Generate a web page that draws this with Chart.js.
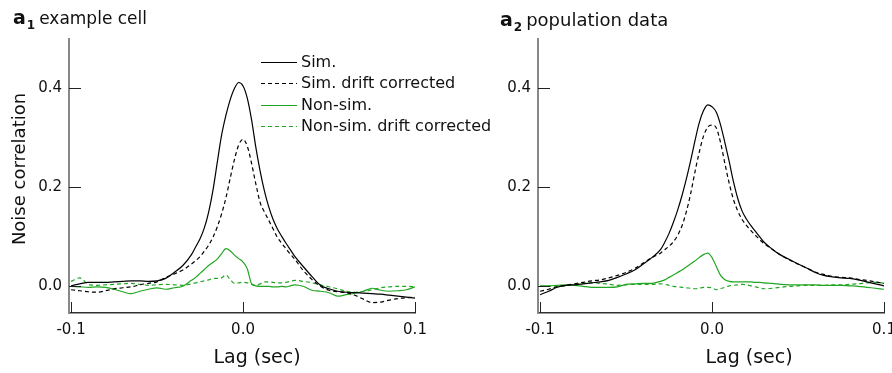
<!DOCTYPE html>
<html>
<head>
<meta charset="utf-8">
<script src="https://cdn.jsdelivr.net/npm/chart.js@4.4.1/dist/chart.umd.min.js"></script>
<style>
  html, body { margin: 0; padding: 0; background: #fff; }
  body { width: 892px; height: 373px; position: relative; overflow: hidden; }
  canvas { position: absolute; top: 0; }
  #cell { left: 0; }
  #pop { left: 446px; }
</style>
</head>
<body>
<canvas id="cell" width="510" height="373"></canvas>
<canvas id="pop" width="446" height="373"></canvas>
<script>
// lag in seconds (finer around the peak)
const lags = [
  -0.100, -0.095, -0.090, -0.085, -0.080, -0.075, -0.070, -0.065, -0.060, -0.055, -0.050, -0.045, -0.040, -0.035, -0.030,
  -0.0275, -0.025, -0.0225, -0.020, -0.0175, -0.015, -0.0125, -0.010, -0.0075, -0.005, -0.0025, 0, 0.0025, 0.005, 0.0075, 0.010, 0.0125, 0.015, 0.0175, 0.020, 0.0225, 0.025, 0.0275,
  0.030, 0.035, 0.040, 0.045, 0.050, 0.055, 0.060, 0.065, 0.070, 0.075, 0.080, 0.085, 0.090, 0.095, 0.100
];

// a1 example cell
const cellSim = [
  0.001, 0.005, 0.008, 0.008, 0.008, 0.009, 0.010, 0.011, 0.011, 0.010, 0.011, 0.016, 0.028, 0.042, 0.064,
  0.080, 0.096, 0.118, 0.150, 0.194, 0.250, 0.305, 0.345, 0.377, 0.400, 0.412, 0.405, 0.380, 0.336, 0.280, 0.232, 0.192, 0.160, 0.135, 0.116, 0.101, 0.087, 0.074,
  0.061, 0.040, 0.020, 0.002, -0.005, -0.010, -0.012, -0.013, -0.014, -0.015, -0.016, -0.018, -0.020, -0.022, -0.024
];
const cellSimDc = [
  -0.007, -0.009, -0.011, -0.012, -0.009, -0.005, -0.003, -0.001, 0.003, 0.006, 0.009, 0.018, 0.025, 0.033, 0.045,
  0.052, 0.060, 0.071, 0.083, 0.099, 0.120, 0.146, 0.178, 0.218, 0.256, 0.286, 0.297, 0.283, 0.248, 0.206, 0.169, 0.150, 0.133, 0.116, 0.099, 0.087, 0.076, 0.065,
  0.055, 0.032, 0.014, 0.000, -0.008, -0.011, -0.013, -0.018, -0.026, -0.033, -0.032, -0.028, -0.025, -0.023, -0.022
];
const cellNon = [
  0.000, -0.001, -0.002, -0.001, -0.002, -0.006, -0.011, -0.015, -0.010, -0.006, -0.003, -0.006, -0.003, 0.000, 0.012,
  0.018, 0.026, 0.034, 0.042, 0.048, 0.055, 0.066, 0.076, 0.072, 0.063, 0.056, 0.049, 0.035, 0.005, 0.001, 0.000, 0.000, 0.000, -0.001, -0.001, 0.000, -0.001, 0.001,
  0.003, 0.000, -0.008, -0.010, -0.013, -0.020, -0.017, -0.014, -0.010, -0.004, -0.008, -0.010, -0.009, -0.007, -0.001
];
const cellNonDc = [
  0.010, 0.017, 0.004, 0.002, 0.003, 0.004, 0.005, 0.006, 0.004, 0.002, 0.003, 0.004, 0.003, 0.002, 0.005,
  0.007, 0.009, 0.011, 0.013, 0.016, 0.016, 0.017, 0.023, 0.014, 0.006, 0.007, 0.008, 0.007, 0.004, 0.002, 0.005, 0.009, 0.009, 0.008, 0.007, 0.007, 0.008, 0.010,
  0.012, 0.010, 0.007, 0.003, -0.001, -0.005, -0.010, -0.012, -0.010, -0.007, -0.003, -0.001, 0.000, 0.000, -0.001
];

// a2 population data
const popSim = [
  -0.017, -0.010, -0.002, 0.002, 0.003, 0.005, 0.007, 0.009, 0.012, 0.018, 0.025, 0.033, 0.045, 0.058, 0.074,
  0.089, 0.107, 0.129, 0.154, 0.183, 0.216, 0.253, 0.293, 0.330, 0.355, 0.367, 0.363, 0.352, 0.326, 0.290, 0.252, 0.211, 0.177, 0.152, 0.136, 0.123, 0.112, 0.101,
  0.090, 0.075, 0.063, 0.054, 0.045, 0.037, 0.028, 0.022, 0.019, 0.017, 0.016, 0.013, 0.009, 0.005, 0.001
];
const popSimDc = [
  -0.010, -0.006, -0.001, 0.002, 0.005, 0.008, 0.011, 0.013, 0.017, 0.022, 0.028, 0.036, 0.047, 0.058, 0.067,
  0.074, 0.081, 0.090, 0.103, 0.122, 0.150, 0.186, 0.230, 0.270, 0.303, 0.322, 0.326, 0.320, 0.290, 0.248, 0.208, 0.175, 0.152, 0.135, 0.123, 0.113, 0.104, 0.095,
  0.087, 0.075, 0.063, 0.053, 0.045, 0.037, 0.029, 0.024, 0.020, 0.018, 0.017, 0.014, 0.012, 0.009, 0.006
];
const popNon = [
  0.001, 0.001, 0.002, 0.003, 0.002, 0.000, -0.002, -0.002, -0.002, -0.001, 0.004, 0.005, 0.006, 0.006, 0.010,
  0.013, 0.018, 0.023, 0.028, 0.033, 0.039, 0.045, 0.051, 0.058, 0.064, 0.067, 0.058, 0.040, 0.022, 0.013, 0.010, 0.009, 0.009, 0.009, 0.009, 0.009, 0.008, 0.008,
  0.007, 0.006, 0.004, 0.003, 0.003, 0.003, 0.003, 0.002, 0.002, 0.002, 0.001, 0.000, -0.002, -0.004, -0.006
];
const popNonDc = [
  0.000, 0.000, 0.000, 0.001, 0.004, 0.006, 0.007, 0.006, 0.004, 0.002, 0.003, 0.004, 0.004, 0.004, 0.005,
  0.004, 0.002, 0.000, -0.001, -0.002, -0.003, -0.004, -0.005, -0.004, -0.002, -0.002, -0.003, -0.007, -0.005, -0.002, 0.001, 0.002, 0.003, 0.004, 0.003, 0.001, -0.001, -0.003,
  -0.005, -0.004, -0.002, 0.000, 0.001, 0.002, 0.002, 0.002, 0.003, 0.003, 0.004, 0.005, 0.007, 0.008, 0.006
];

const seriesNames = ['Sim.', 'Sim. drift corrected', 'Non-sim.', 'Non-sim. drift corrected'];
const xTicks = [-0.1, 0, 0.1];
const yTicks = [0, 0.2, 0.4];
const xTitle = 'Lag (sec)';
const yTitle = 'Noise correlation';

const FONT = '"DejaVu Sans", Verdana, sans-serif';
const GREEN = '#22a622';

// inward ticks, axis titles, panel heading and the inset legend
const decorations = {
  id: 'decorations',
  afterDraw(chart, args, o) {
    const { ctx, chartArea: a, scales: { x, y } } = chart;
    ctx.save();
    ctx.strokeStyle = '#222';
    ctx.lineWidth = 1;
    ctx.beginPath();
    xTicks.forEach(v => {
      const px = Math.round(x.getPixelForValue(v)) + 0.5;
      ctx.moveTo(px, a.bottom);
      ctx.lineTo(px, a.bottom - 11);
    });
    yTicks.forEach(v => {
      const py = Math.round(y.getPixelForValue(v)) + 0.5;
      ctx.moveTo(a.left, py);
      ctx.lineTo(a.left + 12, py);
    });
    ctx.stroke();

    ctx.fillStyle = '#111';
    ctx.textAlign = 'center';
    ctx.textBaseline = 'middle';
    ctx.font = '19px ' + FONT;
    ctx.fillText(xTitle, (a.left + a.right) / 2 + o.xTitleShift, 358);

    if (o.showYTitle) {
      ctx.save();
      ctx.translate(20, 169);
      ctx.rotate(-Math.PI / 2);
      ctx.font = '18px ' + FONT;
      ctx.fillText(yTitle, 0, 0);
      ctx.restore();
    }

    // heading like "a1 example cell"
    ctx.textAlign = 'left';
    ctx.textBaseline = 'alphabetic';
    let hx = o.headX;
    ctx.font = 'bold 19px ' + FONT;
    ctx.fillText('a', hx, o.headY);
    hx += ctx.measureText('a').width + 1;
    ctx.font = 'bold 12px ' + FONT;
    ctx.fillText(o.sub, hx, o.headY + 5);
    hx += ctx.measureText(o.sub).width + 4;
    ctx.font = o.headSize + 'px ' + FONT;
    ctx.fillText(o.head, hx, o.headY);

    if (o.legend) {
      ctx.font = '16px ' + FONT;
      ctx.textBaseline = 'middle';
      chart.data.datasets.forEach((ds, i) => {
        const ly = Math.round(62 + i * 21.3) + 0.5;
        ctx.strokeStyle = ds.borderColor;
        ctx.lineWidth = 1.2;
        ctx.setLineDash(ds.borderDash || []);
        ctx.beginPath();
        ctx.moveTo(261, ly);
        ctx.lineTo(297, ly);
        ctx.stroke();
        ctx.setLineDash([]);
        ctx.fillStyle = '#111';
        ctx.fillText(ds.label, 301, ly);
      });
    }
    ctx.restore();
  }
};

function makePanel(id, values, leftW, rightPad, deco) {
  const styles = [
    { color: '#000', dash: [] },
    { color: '#000', dash: [4, 3] },
    { color: GREEN, dash: [] },
    { color: GREEN, dash: [4, 3] }
  ];
  const datasets = values.map((vals, i) => ({
    label: seriesNames[i],
    data: lags.map((l, j) => ({ x: l, y: vals[j] })),
    borderColor: styles[i].color,
    borderDash: styles[i].dash,
    borderWidth: 1.2,
    pointRadius: 0,
    cubicInterpolationMode: 'monotone',
    fill: false
  }));
  const tickFont = { family: FONT, size: 15 };
  return new Chart(document.getElementById(id), {
    type: 'line',
    data: { datasets },
    plugins: [decorations],
    options: {
      responsive: false,
      animation: false,
      events: [],
      layout: { padding: { left: 0, top: 39, right: rightPad, bottom: 0 } },
      plugins: {
        legend: { display: false },
        tooltip: { enabled: false },
        decorations: deco
      },
      scales: {
        x: {
          type: 'linear',
          min: -0.1012,
          max: 0.1,
          grid: { display: false, drawTicks: false },
          border: { display: true, color: '#333', width: 1.5 },
          afterBuildTicks: s => { s.ticks = xTicks.map(v => ({ value: v })); },
          afterFit: s => { s.height = 60; s.paddingLeft = 0; s.paddingRight = 0; },
          ticks: { padding: 8, color: '#111', font: tickFont, maxRotation: 0, autoSkip: false, callback: v => v.toFixed(1) }
        },
        y: {
          min: -0.054,
          max: 0.5,
          grid: { display: false, drawTicks: false },
          border: { display: true, color: '#888', width: 2 },
          afterBuildTicks: s => { s.ticks = yTicks.map(v => ({ value: v })); },
          afterFit: s => { s.width = leftW; s.paddingTop = 0; s.paddingBottom = 0; },
          ticks: { padding: 7, color: '#111', font: tickFont, callback: v => v.toFixed(1) }
        }
      }
    }
  });
}

makePanel('cell', [cellSim, cellSimDc, cellNon, cellNonDc], 69, 95, {
  xTitleShift: 15, showYTitle: true, headX: 13, headY: 24, sub: '1', head: 'example cell', headSize: 17, legend: true
});
makePanel('pop', [popSim, popSimDc, popNon, popNonDc], 92, 8, {
  xTitleShift: 38, showYTitle: false, headX: 54, headY: 26, sub: '2', head: 'population data', headSize: 18, legend: false
});
</script>
</body>
</html>
